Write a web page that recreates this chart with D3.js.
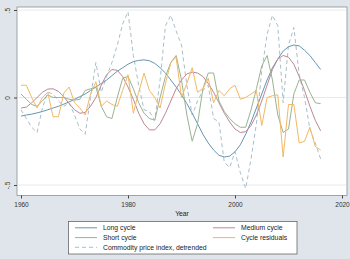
<!DOCTYPE html>
<html>
<head>
<meta charset="utf-8">
<script src="https://cdn.jsdelivr.net/npm/d3@7"></script>
<style>
  body { margin: 0; background: #dfe5ea; }
  svg { display: block; font-family: "Liberation Sans", Arial, sans-serif; }
</style>
</head>
<body>
<div class="chart-area"></div>
<script>
// ---- Data ----
const years = d3.range(1960, 2017);

const longCycle = [
  -0.106, -0.10, -0.095, -0.088, -0.08, -0.07, -0.06, -0.05, -0.038, -0.025,
  -0.01, 0.005, 0.02, 0.04, 0.06, 0.08, 0.10, 0.125, 0.15, 0.17,
  0.19, 0.205, 0.212, 0.215, 0.21, 0.195, 0.17, 0.14, 0.10, 0.06,
  0.015, -0.035, -0.09, -0.15, -0.21, -0.26, -0.30, -0.33, -0.34, -0.335,
  -0.31, -0.27, -0.21, -0.14, -0.06, 0.02, 0.10, 0.17, 0.22, 0.265,
  0.29, 0.30, 0.295, 0.27, 0.24, 0.20, 0.16
];

const mediumCycle = [
  -0.06, -0.055, -0.03, 0.0, 0.03, 0.048, 0.05, 0.035, 0.005, -0.035,
  -0.07, -0.09, -0.085, -0.05, 0.0, 0.07, 0.13, 0.16, 0.155, 0.12,
  0.06, -0.01, -0.09, -0.15, -0.185, -0.185, -0.15, -0.09, -0.02, 0.05,
  0.10, 0.135, 0.145, 0.14, 0.12, 0.08, 0.03, -0.03, -0.09, -0.14,
  -0.18, -0.2, -0.195, -0.16, -0.1, -0.02, 0.07, 0.16, 0.22, 0.24,
  0.23, 0.19, 0.12, 0.04, -0.05, -0.13, -0.19
];

const shortCycle = [
  0.02, -0.01, -0.04, -0.05, -0.02, 0.015, 0.0, 0.0, 0.0, -0.01,
  -0.015, -0.01, 0.04, 0.05, 0.06, -0.05, -0.11, -0.12, 0.0, 0.11,
  0.12, 0.05, -0.03, -0.09, -0.12, -0.13, 0.0, 0.12, 0.2, 0.24,
  0.1, -0.1, -0.25, -0.15, 0.05, 0.14, 0.14, -0.02, -0.08, -0.12,
  -0.15, -0.17, -0.17, -0.07, 0.05, 0.18, 0.24, 0.1, -0.1, -0.2,
  -0.18, 0.02, 0.1, 0.1, 0.03, -0.03, -0.035
];

const residuals = [
  0.07, 0.07, 0.0, -0.06, 0.0, 0.03, -0.11, -0.11, 0.025, 0.06,
  -0.03, -0.06, -0.1, 0.02, 0.09, -0.05, -0.02, -0.04, -0.05, 0.04,
  0.13, -0.09, 0.03, 0.14, 0.04, 0.0, -0.06, 0.08, 0.2, 0.23,
  0.0, 0.08, 0.17, 0.03, 0.05, 0.11, -0.03, 0.04, 0.01, 0.05,
  0.07, -0.01, 0.0, 0.02, 0.04, -0.16, 0.0, 0.01, 0.015, -0.34,
  -0.04, -0.04, -0.26, -0.25, -0.17, -0.28, -0.3
];

const commodity = [
  -0.07, -0.12, -0.17, -0.2, -0.06, 0.03, 0.02, -0.02, -0.05, -0.03,
  -0.1, -0.18, -0.21, 0.0, 0.2, 0.03, 0.12, 0.2, 0.30, 0.42,
  0.49, 0.24, 0.07, -0.07, -0.08, -0.13, 0.1, 0.41, 0.47, 0.38,
  0.3, 0.07, -0.1, -0.02, 0.04, 0.07, -0.12, -0.14, -0.37, -0.4,
  -0.31, -0.43, -0.52, -0.35, -0.15, 0.15, 0.36, 0.47, 0.41, -0.03,
  0.3, 0.4, 0.13, 0.0, -0.18, -0.26, -0.35
];

const xTicks = [1960, 1980, 2000, 2020];
const yTicks = [-0.5, 0, 0.5];
const yTickLabels = ["-.5", "0", ".5"];

const series = [
  { name: "Long cycle", values: longCycle, color: "#6595b2", dash: null },
  { name: "Medium cycle", values: mediumCycle, color: "#bd8794", dash: null },
  { name: "Short cycle", values: shortCycle, color: "#98b391", dash: null },
  { name: "Cycle residuals", values: residuals, color: "#f2b865", dash: null },
  { name: "Commodity price index, detrended", values: commodity, color: "#a9bfca", dash: "4,3" }
];

// ---- Sizes ----
const svgWidth = 350, svgHeight = 259;
const plot = { left: 17, right: 347, top: 7, bottom: 195.5 };

const svg = d3.select(".chart-area").append("svg")
  .attr("width", svgWidth)
  .attr("height", svgHeight);

svg.append("rect")
  .attr("width", svgWidth).attr("height", svgHeight)
  .attr("fill", "#dfe5ea");

// Plot region
svg.append("rect")
  .attr("x", plot.left).attr("y", plot.top)
  .attr("width", plot.right - plot.left).attr("height", plot.bottom - plot.top)
  .attr("fill", "#fff")
  .attr("stroke", "#8a9196")
  .attr("stroke-width", 0.8);

const x = d3.scaleLinear().domain([1960, 2020]).range([21, 342]);
const y = d3.scaleLinear().domain([-0.5, 0.5]).range([185, 10]);

// gridlines
svg.append("g").selectAll("line")
  .data(yTicks)
  .join("line")
  .attr("x1", plot.left + 1).attr("x2", plot.right - 1)
  .attr("y1", d => y(d)).attr("y2", d => y(d))
  .attr("stroke", "#e6eaec")
  .attr("stroke-width", 1);

// Axes
const xAxis = svg.append("g")
  .attr("transform", `translate(0, ${plot.bottom})`)
  .call(d3.axisBottom(x).tickValues(xTicks).tickSize(3).tickSizeOuter(0).tickFormat(d3.format("d")));
xAxis.select(".domain").remove();
xAxis.selectAll("line").attr("stroke", "#444");
xAxis.selectAll("text").attr("fill", "#333").style("font-size", "6.5px").attr("dy", "0.9em");

const yAxis = svg.append("g")
  .attr("transform", `translate(${plot.left}, 0)`)
  .call(d3.axisLeft(y).tickValues(yTicks).tickSize(3).tickSizeOuter(0).tickFormat((d, i) => yTickLabels[i]));
yAxis.select(".domain").remove();
yAxis.selectAll("line").attr("stroke", "#444");
yAxis.selectAll("text")
  .attr("fill", "#333")
  .style("font-size", "6.5px")
  .attr("x", 0).attr("dy", 0)
  .attr("text-anchor", "middle")
  .attr("transform", "translate(-7,0) rotate(-90)");

// Axis title
svg.append("text")
  .attr("x", (plot.left + plot.right) / 2)
  .attr("y", 216)
  .attr("text-anchor", "middle")
  .attr("fill", "#222")
  .style("font-size", "6.8px")
  .text("Year");

// Lines
const line = d3.line()
  .x((d, i) => x(years[i]))
  .y(d => y(d));

const drawOrder = [4, 0, 1, 2, 3];
drawOrder.forEach(k => {
  const s = series[k];
  svg.append("path")
    .datum(s.values)
    .attr("d", line)
    .attr("fill", "none")
    .attr("stroke", s.color)
    .attr("stroke-width", 1)
    .attr("stroke-dasharray", s.dash);
});

// Legend
const legend = svg.append("g").attr("class", "legend");
legend.append("rect")
  .attr("x", 68.5).attr("y", 221.5)
  .attr("width", 228.5).attr("height", 32.5)
  .attr("fill", "#fff")
  .attr("stroke", "#555")
  .attr("stroke-width", 0.7);

const legendItems = [
  { s: series[0], col: 0, row: 0 },
  { s: series[1], col: 1, row: 0 },
  { s: series[2], col: 0, row: 1 },
  { s: series[3], col: 1, row: 1 },
  { s: series[4], col: 0, row: 2 }
];
const colX = [75, 213];
const rowY = [227.8, 237.6, 247.3];

legend.selectAll("line")
  .data(legendItems)
  .join("line")
  .attr("x1", d => colX[d.col]).attr("x2", d => colX[d.col] + 22)
  .attr("y1", d => rowY[d.row]).attr("y2", d => rowY[d.row])
  .attr("stroke", d => d.s.color)
  .attr("stroke-width", 1)
  .attr("stroke-dasharray", d => d.s.dash);

legend.selectAll("text")
  .data(legendItems)
  .join("text")
  .attr("x", d => colX[d.col] + 28)
  .attr("y", d => rowY[d.row])
  .attr("dy", "0.35em")
  .attr("fill", "#222")
  .style("font-size", "6.8px")
  .text(d => d.s.name);
</script>
</body>
</html>
